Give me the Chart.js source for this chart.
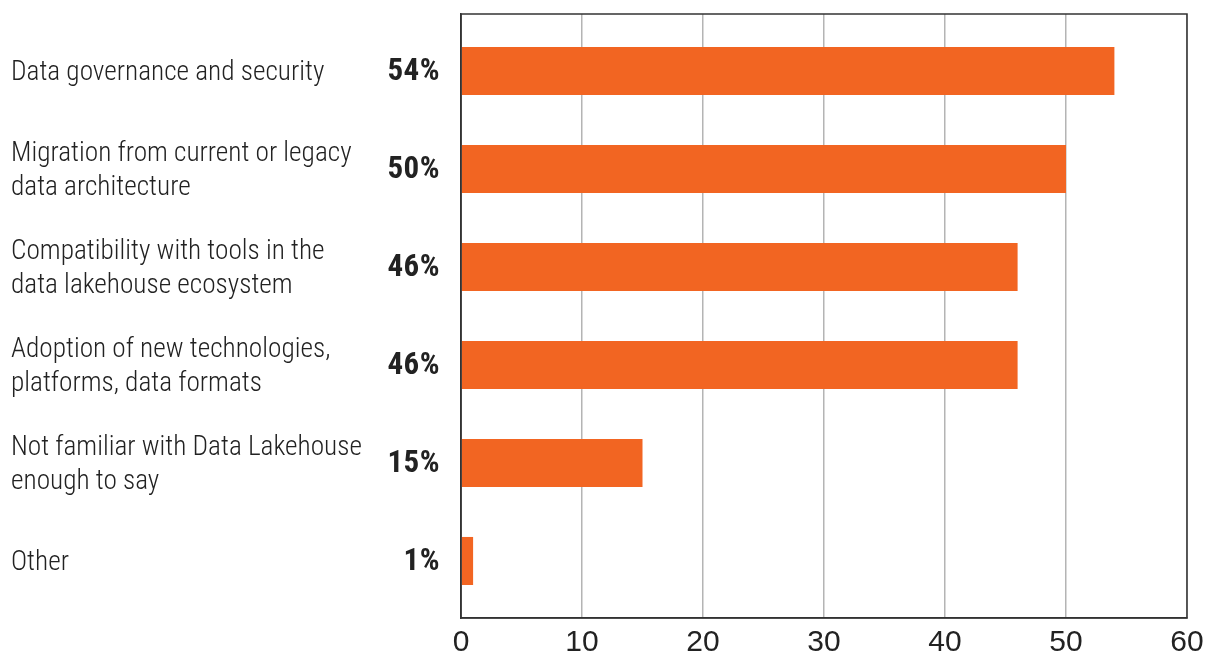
<!DOCTYPE html>
<html>
<head>
<meta charset="utf-8">
<script src="https://cdn.jsdelivr.net/npm/chart.js@4/dist/chart.umd.min.js"></script>
<style>
  html, body { margin: 0; padding: 0; background: #fff; }
  #wrap { width: 1206px; height: 652px; }
</style>
</head>
<body>
<div id="wrap"><canvas id="myChart"></canvas></div>
<script>
// Survey answers, top to bottom
const categories = [
  ["Data governance and security"],
  ["Migration from current or legacy", "data architecture"],
  ["Compatibility with tools in the", "data lakehouse ecosystem"],
  ["Adoption of new technologies,", "platforms, data formats"],
  ["Not familiar with Data Lakehouse", "enough to say"],
  ["Other"]
];
const shares = [54, 50, 46, 46, 15, 1];
const xTicks = [0, 10, 20, 30, 40, 50, 60];

const narrow = "'Roboto Condensed', 'DejaVu Sans Condensed', sans-serif";
const ctx = document.getElementById('myChart');

// box round the plot area
const frame = {
  id: 'frame',
  afterDraw(chart) {
    const a = chart.chartArea;
    const c = chart.ctx;
    c.save();
    c.strokeStyle = '#333';
    c.lineWidth = 1.5;
    c.strokeRect(a.left, a.top, a.right - a.left, a.bottom - a.top);
    c.restore();
  }
};

// bold percentages left of the bars
const percentLabels = {
  id: 'percentLabels',
  afterDatasetsDraw(chart) {
    const c = chart.ctx;
    const meta = chart.getDatasetMeta(0);
    c.save();
    c.font = "bold 31px " + narrow;
    c.letterSpacing = '0.5px';
    c.fillStyle = '#222';
    c.textAlign = 'right';
    c.textBaseline = 'middle';
    meta.data.forEach(function (bar, i) {
      c.fillText(shares[i] + '%', chart.chartArea.left - 21, bar.y + 1);
    });
    c.restore();
  }
};

new Chart(ctx, {
  type: 'bar',
  data: {
    datasets: [{
      data: shares.map(function (v, i) { return { x: v, y: i }; }),
      backgroundColor: '#F26522',
      borderWidth: 0,
      categoryPercentage: 1,
      barPercentage: 0.49
    }]
  },
  options: {
    indexAxis: 'y',
    responsive: true,
    maintainAspectRatio: false,
    animation: false,
    layout: { padding: { left: 11, right: 19, top: 14, bottom: 0 } },
    plugins: { legend: { display: false }, tooltip: { enabled: false } },
    scales: {
      x: {
        type: 'linear',
        min: 0,
        max: 60,
        afterBuildTicks: function (scale) {
          scale.ticks = xTicks.map(function (v) { return { value: v }; });
        },
        afterFit: function (scale) {
          scale.height = 34;
          scale.paddingLeft = 0;
          scale.paddingRight = 0;
        },
        grid: { color: '#b4b4b4', lineWidth: 1.5, drawTicks: false },
        border: { display: true, color: '#333', width: 1.5 },
        ticks: {
          padding: 7,
          color: '#222',
          font: { family: "'Liberation Sans', Arial, sans-serif", size: 30 }
        }
      },
      y: {
        type: 'linear',
        offset: false,
        reverse: true,
        min: -0.582,
        max: 5.582,
        afterBuildTicks: function (scale) {
          scale.ticks = categories.map(function (_, i) { return { value: i }; });
        },
        afterFit: function (scale) {
          scale.width = 450;
          scale.paddingTop = 0;
          scale.paddingBottom = 0;
        },
        grid: { display: false, offset: false },
        border: { display: true, color: '#333', width: 1.5 },
        ticks: {
          autoSkip: false,
          crossAlign: 'far',
          labelOffset: 2,
          color: '#222',
          font: { family: narrow, size: 27.3, weight: '300', lineHeight: 1.24 },
          callback: function (v) { return categories[v]; }
        }
      }
    }
  },
  plugins: [frame, percentLabels]
});
</script>
</body>
</html>
